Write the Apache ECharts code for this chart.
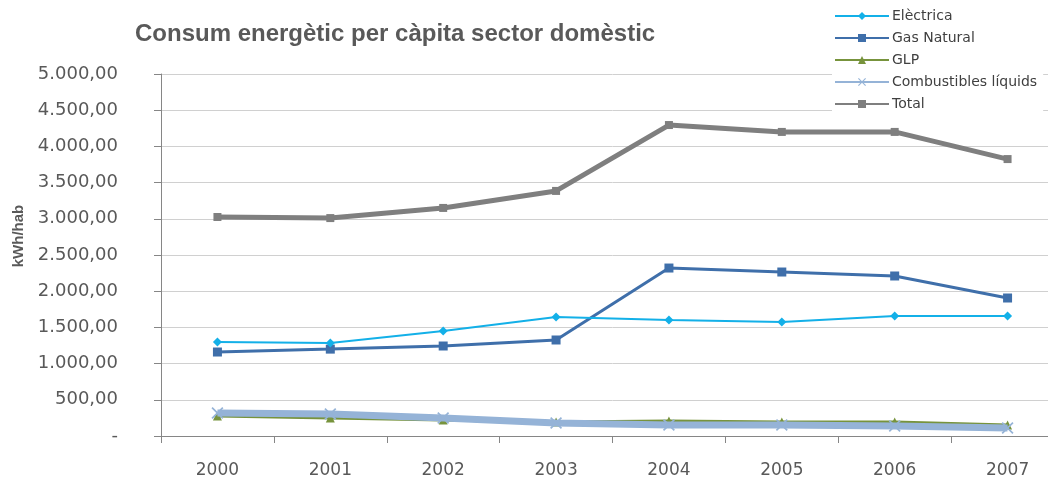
<!DOCTYPE html>
<html>
<head>
<meta charset="utf-8">
<script src="https://cdn.jsdelivr.net/npm/echarts@6/dist/echarts.min.js"></script>
<style>
  html, body { margin: 0; padding: 0; background: #ffffff; overflow: hidden; }
  #chart { width: 1064px; height: 480px; }
</style>
</head>
<body>
<div id="chart"></div>
<script>
// Data
const years = ['2000', '2001', '2002', '2003', '2004', '2005', '2006', '2007'];
const electrica = [1298, 1285, 1450, 1644, 1602, 1575, 1657, 1657];
const gasNatural = [1160, 1200, 1243, 1326, 2320, 2265, 2210, 1906];
const glp = [276, 249, 221, 193, 207, 193, 193, 152];
const combustibles = [318, 304, 249, 180, 152, 152, 138, 110];
const total = [3025, 3010, 3150, 3385, 4295, 4200, 4200, 3825];
const yTickLabels = ['-', '500,00', '1.000,00', '1.500,00', '2.000,00', '2.500,00',
    '3.000,00', '3.500,00', '4.000,00', '4.500,00', '5.000,00'];

const textColor = '#595959';
const crossSymbol = 'path://M0,1L1,0L5,4L9,0L10,1L6,5L10,9L9,10L5,6L1,10L0,9L4,5Z';

// the plot runs on past the right edge of the picture, so the canvas is a bit wider than the window
const chart = echarts.init(document.getElementById('chart'));

const option = {
    animation: false,
    title: {
        text: 'Consum energètic per càpita sector domèstic',
        left: 130,
        top: 17,
        textStyle: {
            fontFamily: 'Liberation Sans',
            fontSize: 24,
            fontWeight: 'bold',
            color: textColor
        }
    },
    legend: {
        orient: 'vertical',
        left: 832,
        top: 7,
        itemWidth: 54,
        itemHeight: 10,
        itemGap: 8,
        padding: [2, 6, 2, 2],
        backgroundColor: '#ffffff',
        textStyle: {
            fontFamily: 'DejaVu Sans',
            fontSize: 14,
            color: '#404040',
            padding: [0, 0, 0, -2]
        },
        data: ['Elèctrica', 'Gas Natural', 'GLP', 'Combustibles líquids', 'Total']
    },
    grid: {
        left: 161,
        right: 0,
        top: 74,
        bottom: 44,
        containLabel: false
    },
    xAxis: {
        type: 'category',
        data: years,
        boundaryGap: true,
        axisLine: { lineStyle: { color: '#868686', width: 1 } },
        axisTick: { show: true, length: 7, lineStyle: { color: '#868686' } },
        axisLabel: {
            margin: 26,
            fontFamily: 'DejaVu Sans',
            fontSize: 17,
            color: textColor
        }
    },
    yAxis: {
        type: 'value',
        min: 0,
        max: 5000,
        interval: 500,
        name: 'kWh/hab',
        nameLocation: 'middle',
        nameGap: 135,
        nameTextStyle: {
            fontFamily: 'Liberation Sans',
            fontSize: 15,
            fontWeight: 'bold',
            color: textColor,
            padding: [0, 0, 0, 38]
        },
        axisLine: { show: true, lineStyle: { color: '#868686', width: 1 } },
        axisTick: { show: true, length: 7, lineStyle: { color: '#868686' } },
        axisLabel: {
            margin: 43,
            fontFamily: 'DejaVu Sans',
            fontSize: 18,
            color: textColor,
            formatter: function (v) { return yTickLabels[Math.round(v / 500)]; }
        },
        splitLine: { lineStyle: { color: '#d0d0d0', width: 1 } }
    },
    series: [
        {
            name: 'Total',
            type: 'line',
            data: total,
            z: 2,
            symbol: 'rect',
            symbolSize: 8,
            lineStyle: { color: '#7f7f7f', width: 5 },
            itemStyle: { color: '#7f7f7f' }
        },
        {
            name: 'Combustibles líquids',
            type: 'line',
            data: combustibles,
            z: 4,
            symbol: crossSymbol,
            symbolSize: 12,
            lineStyle: { color: '#95b3d7', width: 7 },
            itemStyle: { color: '#95b3d7' }
        },
        {
            name: 'GLP',
            type: 'line',
            data: glp,
            z: 3,
            symbol: 'triangle',
            symbolSize: 9,
            lineStyle: { color: '#77933c', width: 3 },
            itemStyle: { color: '#77933c' }
        },
        {
            name: 'Gas Natural',
            type: 'line',
            data: gasNatural,
            z: 5,
            symbol: 'rect',
            symbolSize: 9,
            lineStyle: { color: '#3f6faa', width: 3 },
            itemStyle: { color: '#3f6faa' }
        },
        {
            name: 'Elèctrica',
            type: 'line',
            data: electrica,
            z: 6,
            symbol: 'diamond',
            symbolSize: 9,
            lineStyle: { color: '#13b0e8', width: 2 },
            itemStyle: { color: '#13b0e8' }
        }
    ]
};

chart.setOption(option);

window.addEventListener('resize', function () {
    chart.resize();
});
</script>
</body>
</html>
